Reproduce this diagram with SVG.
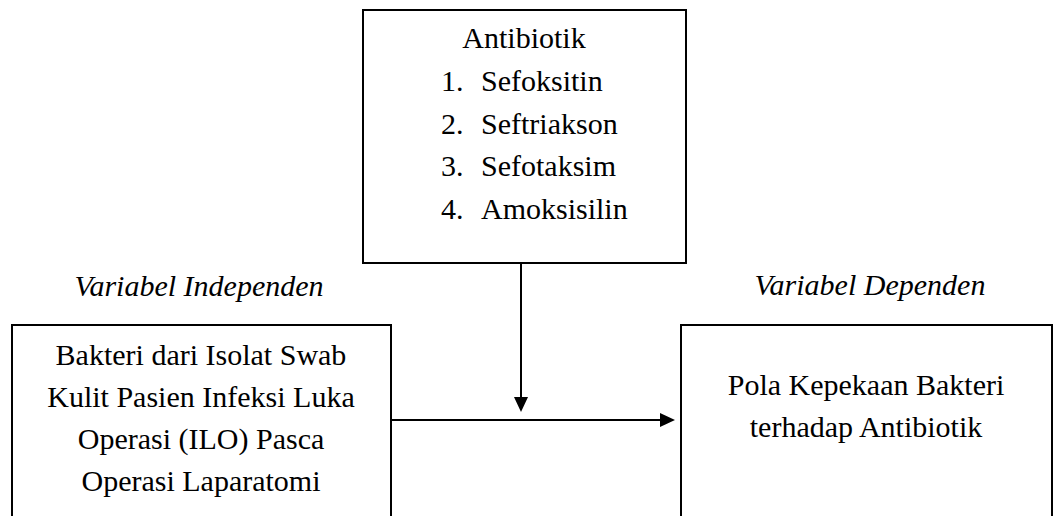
<svg xmlns="http://www.w3.org/2000/svg" width="1055" height="516" viewBox="0 0 1055 516">
<style>
.box{fill:#fff;stroke:#000;stroke-width:2}
.t{font-family:"Liberation Serif","Times New Roman",serif;font-size:30px;fill:#000}
.c{text-anchor:middle}
.i{font-style:italic}
.ln{stroke:#000;stroke-width:2;fill:none}
</style>
<rect width="1055" height="516" fill="#fff"/>
<g id="antibiotik">
<rect class="box" x="363" y="10" width="323" height="253"/>
<text class="t c" x="524" y="48">Antibiotik</text>
<text class="t" x="441" y="91">1.</text><text class="t" x="481" y="91">Sefoksitin</text>
<text class="t" x="441" y="134">2.</text><text class="t" x="481" y="134">Seftriakson</text>
<text class="t" x="441" y="176">3.</text><text class="t" x="481" y="176">Sefotaksim</text>
<text class="t" x="441" y="219">4.</text><text class="t" x="481" y="219">Amoksisilin</text>
</g>
<g id="label-independen">
<text class="t c i" x="199" y="296">Variabel Independen</text>
</g>
<g id="label-dependen">
<text class="t c i" x="870" y="295">Variabel Dependen</text>
</g>
<g id="bakteri">
<rect class="box" x="12" y="325" width="379" height="210"/>
<text class="t c" x="201" y="365">Bakteri dari Isolat Swab</text>
<text class="t c" x="201" y="407">Kulit Pasien Infeksi Luka</text>
<text class="t c" x="201" y="449">Operasi (ILO) Pasca</text>
<text class="t c" x="201" y="491">Operasi Laparatomi</text>
</g>
<g id="pola">
<rect class="box" x="681" y="325" width="371" height="210"/>
<text class="t c" x="866" y="395">Pola Kepekaan Bakteri</text>
<text class="t c" x="866" y="437">terhadap Antibiotik</text>
</g>
<g id="connectors">
<line class="ln" x1="521" y1="263" x2="521" y2="398"/>
<polygon points="514,397 528,397 521,412" fill="#000"/>
<line class="ln" x1="391" y1="420" x2="661" y2="420"/>
<polygon points="660,413 660,427 675,420" fill="#000"/>
</g>
</svg>
